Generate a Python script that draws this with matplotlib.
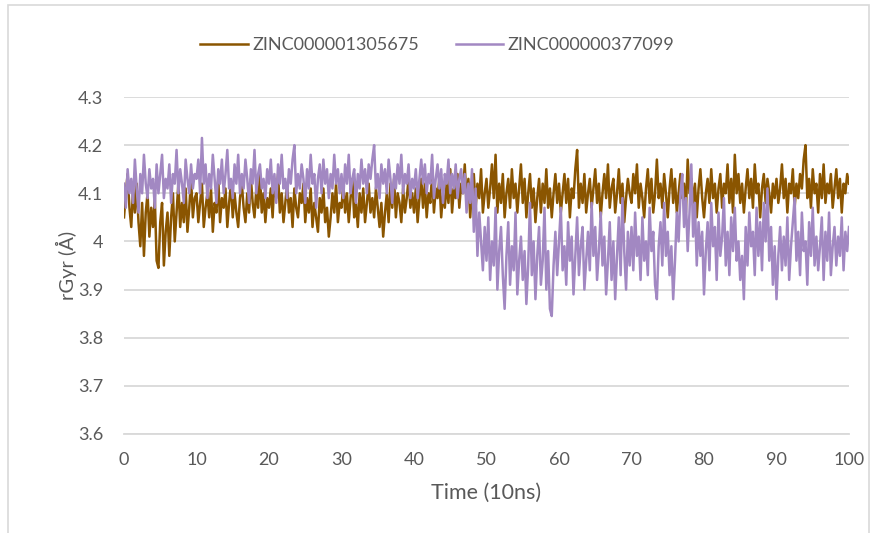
import numpy as np
import matplotlib
matplotlib.use("Agg")
import matplotlib.pyplot as plt
from matplotlib.patches import Rectangle

# ZINC000001305675 (brown), sampled every 0.25 time units (10 ns)
zinc_1305675 = [
    4.05, 4.10, 4.14, 4.07, 4.03, 4.11, 4.06, 4.12, 4.04, 3.99, 4.08, 3.97, 4.06, 4.10, 4.01, 4.07, 4.03, 4.09, 3.96, 3.945,
    4.04, 4.08, 3.95, 4.02, 4.06, 3.97, 4.05, 4.10, 4.00, 4.06, 4.12, 4.03, 4.08, 4.04, 4.11, 4.02, 4.07, 4.13, 4.05, 4.09,
    4.10, 4.04, 4.08, 4.12, 4.03, 4.07, 4.10, 4.05, 4.11, 4.02, 4.08, 4.06, 4.13, 4.04, 4.09, 4.07, 4.11, 4.03, 4.08, 4.12,
    4.05, 4.10, 4.06, 4.03, 4.09, 4.12, 4.07, 4.04, 4.10, 4.06, 4.13, 4.08, 4.05, 4.11, 4.07, 4.14, 4.06, 4.10, 4.04, 4.09,
    4.07, 4.11, 4.05, 4.13, 4.09, 4.14, 4.06, 4.10, 4.04, 4.08, 4.12, 4.06, 4.09, 4.03, 4.11, 4.07, 4.05, 4.10, 4.08, 4.12,
    4.04, 4.09, 4.06, 4.11, 4.03, 4.08, 4.05, 4.02, 4.09, 4.06, 4.11, 4.04, 4.07, 4.01, 4.05, 4.10, 4.06, 4.12, 4.04, 4.08,
    4.07, 4.12, 4.06, 4.10, 4.04, 4.09, 4.13, 4.05, 4.08, 4.03, 4.10, 4.06, 4.11, 4.04, 4.08, 4.12, 4.06, 4.09, 4.05, 4.11,
    4.07, 4.03, 4.08, 4.01, 4.06, 4.10, 4.04, 4.12, 4.07, 4.13, 4.05, 4.10, 4.08, 4.04, 4.11, 4.06, 4.09, 4.13, 4.07, 4.10,
    4.06, 4.11, 4.04, 4.09, 4.13, 4.07, 4.12, 4.05, 4.10, 4.08, 4.14, 4.06, 4.11, 4.09, 4.13, 4.05, 4.10, 4.07, 4.12, 4.08,
    4.15, 4.06, 4.11, 4.09, 4.14, 4.07, 4.12, 4.10, 4.16, 4.08, 4.13, 4.05, 4.11, 4.14, 4.07, 4.12, 4.09, 4.15, 4.06, 4.10,
    4.13, 4.07, 4.11, 4.16, 4.09, 4.18, 4.06, 4.12, 4.08, 4.14, 4.05, 4.10, 4.13, 4.07, 4.15, 4.09, 4.12, 4.06, 4.11, 4.16,
    4.08, 4.13, 4.05, 4.10, 4.14, 4.07, 4.11, 4.04, 4.09, 4.13, 4.06, 4.12, 4.08, 4.15, 4.07, 4.11, 4.05, 4.10, 4.14, 4.08,
    4.12, 4.06, 4.10, 4.14, 4.08, 4.13, 4.05, 4.11, 4.09, 4.15, 4.19, 4.07, 4.12, 4.08, 4.14, 4.06, 4.10, 4.13, 4.07, 4.11,
    4.15, 4.08, 4.12, 4.05, 4.10, 4.14, 4.09, 4.16, 4.07, 4.11, 4.13, 4.06, 4.10, 4.15, 4.08, 4.12, 4.04, 4.09, 4.13, 4.10,
    4.08, 4.14, 4.10, 4.16, 4.07, 4.12, 4.09, 4.05, 4.11, 4.15, 4.08, 4.13, 4.06, 4.10, 4.17, 4.09, 4.12, 4.07, 4.14, 4.10,
    4.05, 4.11, 4.15, 4.08, 4.13, 4.06, 4.10, 4.14, 4.09, 4.12, 4.06, 4.17, 4.10, 4.13, 4.08, 4.12, 4.05, 4.11, 4.15, 4.09,
    4.05, 4.10, 4.13, 4.08, 4.15, 4.09, 4.12, 4.06, 4.11, 4.14, 4.07, 4.12, 4.10, 4.16, 4.08, 4.13, 4.06, 4.18, 4.10, 4.14,
    4.08, 4.12, 4.06, 4.11, 4.15, 4.09, 4.13, 4.07, 4.16, 4.10, 4.12, 4.05, 4.11, 4.14, 4.08, 4.13, 4.10, 4.06, 4.12, 4.09,
    4.13, 4.08, 4.11, 4.16, 4.09, 4.13, 4.06, 4.12, 4.10, 4.15, 4.07, 4.12, 4.09, 4.14, 4.11, 4.17, 4.20, 4.09, 4.13, 4.07,
    4.15, 4.10, 4.12, 4.06, 4.14, 4.09, 4.16, 4.08, 4.12, 4.10, 4.14, 4.07, 4.11, 4.15, 4.09, 4.13, 4.06, 4.12, 4.10, 4.14,
    4.12,
]

# ZINC000000377099 (purple), sampled every 0.25 time units (10 ns)
zinc_377099 = [
    4.12, 4.07, 4.15, 4.10, 4.13, 4.08, 4.17, 4.11, 4.06, 4.14, 4.10, 4.18, 4.12, 4.09, 4.15, 4.11, 4.13, 4.07, 4.16, 4.10,
    4.14, 4.18, 4.09, 4.13, 4.11, 4.16, 4.08, 4.14, 4.12, 4.19, 4.10, 4.15, 4.12, 4.08, 4.17, 4.13, 4.10, 4.16, 4.11, 4.14,
    4.13, 4.17, 4.10, 4.215, 4.12, 4.16, 4.09, 4.14, 4.11, 4.18, 4.13, 4.08, 4.15, 4.12, 4.17, 4.10, 4.14, 4.19, 4.11, 4.13,
    4.09, 4.16, 4.12, 4.18, 4.10, 4.14, 4.11, 4.17, 4.13, 4.08, 4.15, 4.12, 4.19, 4.10, 4.14, 4.16, 4.11, 4.13, 4.09, 4.15,
    4.12, 4.17, 4.10, 4.14, 4.08, 4.16, 4.12, 4.18, 4.11, 4.13, 4.09, 4.15, 4.12, 4.17, 4.20, 4.10, 4.14, 4.11, 4.16, 4.13,
    4.08, 4.15, 4.11, 4.18, 4.12, 4.14, 4.07, 4.13, 4.16, 4.10, 4.17, 4.12, 4.15, 4.09, 4.14, 4.11, 4.18, 4.12, 4.15, 4.10,
    4.14, 4.09, 4.16, 4.12, 4.18, 4.10, 4.13, 4.15, 4.08, 4.14, 4.11, 4.17, 4.12, 4.15, 4.10, 4.16, 4.13, 4.17, 4.20, 4.11,
    4.14, 4.09, 4.16, 4.12, 4.15, 4.10, 4.17, 4.13, 4.08, 4.14, 4.11, 4.16, 4.12, 4.18, 4.10, 4.14, 4.12, 4.16, 4.09, 4.13,
    4.11, 4.15, 4.09, 4.13, 4.17, 4.12, 4.16, 4.10, 4.14, 4.12, 4.18, 4.09, 4.13, 4.16, 4.11, 4.15, 4.08, 4.14, 4.12, 4.17,
    4.10, 4.14, 4.11, 4.16, 4.09, 4.13, 4.15, 4.10, 4.14, 4.06, 4.12, 4.08, 4.15, 4.02, 4.11, 3.97, 4.06, 4.00, 3.94, 4.03,
    3.96, 4.05, 3.92, 4.00, 3.95, 4.07, 3.90, 3.98, 4.03, 3.93, 3.86, 3.97, 4.04, 3.91, 3.99, 3.94, 4.06, 3.89, 3.96, 4.01,
    3.92, 3.98, 3.87, 3.95, 4.08, 3.93, 4.00, 3.88, 3.97, 4.03, 3.91, 3.96, 4.07, 3.90, 3.98, 3.86, 3.845, 3.95, 4.02, 3.93,
    4.00, 4.07, 3.94, 3.99, 3.91, 4.04, 3.96, 4.01, 3.89, 3.97, 4.05, 3.93, 3.99, 4.03, 3.90, 3.96, 4.02, 3.94, 4.08, 3.97,
    4.03, 3.92, 3.98, 4.06, 3.95, 4.01, 3.89, 3.96, 4.04, 3.92, 4.00, 3.88, 3.97, 4.05, 3.93, 4.09, 3.98, 3.90, 4.02, 3.95,
    4.03, 3.94, 4.06, 3.97, 4.01, 3.92, 4.05, 3.96, 4.00, 3.93, 4.07, 3.98, 4.02, 3.91, 3.88, 3.99, 4.04, 3.95, 4.08, 3.97,
    4.02, 3.93, 3.99, 3.88, 3.96, 4.06, 4.00, 4.10, 4.14, 4.03, 4.09, 3.98, 4.06, 4.16, 4.01, 4.08, 3.95, 4.04, 3.97, 4.02,
    3.89, 3.98, 4.04, 3.94, 4.08, 3.99, 4.03, 3.92, 4.06, 3.97, 4.01, 4.09, 3.95, 4.02, 3.93, 4.05, 3.98, 4.07, 3.96, 4.00,
    3.92, 3.97, 3.88, 4.03, 3.95, 4.06, 3.99, 4.02, 3.93, 4.07, 3.97, 4.04, 3.94, 4.08, 4.00, 4.11, 3.96, 4.03, 3.91, 3.99,
    3.88, 3.97, 4.03, 3.94, 4.01, 3.95, 4.05, 3.92, 3.99, 4.04, 4.09, 3.96, 4.02, 3.93, 4.06, 3.98, 4.00, 3.91, 4.04, 3.97,
    4.07, 3.95, 4.01, 3.94, 3.99, 4.05, 3.92, 4.02, 3.96, 4.06, 3.93, 3.99, 4.03, 3.95, 4.01, 3.97, 4.05, 3.94, 4.02, 3.98,
    4.03,
]

time = np.linspace(0, 100, len(zinc_1305675))
time2 = np.linspace(0, 100, len(zinc_377099))

series_names = ["ZINC000001305675", "ZINC000000377099"]
x_ticks = list(range(0, 101, 10))
y_ticks = [3.6, 3.7, 3.8, 3.9, 4.0, 4.1, 4.2, 4.3]
y_tick_labels = ["3.6", "3.7", "3.8", "3.9", "4", "4.1", "4.2", "4.3"]

plt.rcParams['font.family'] = ['Lato', 'DejaVu Sans']
text_color = '#595959'
grid_color = '#d9d9d9'

fig = plt.figure(figsize=(8.75, 5.33), dpi=100)
ax = fig.add_axes([124/875, 1-434/533, (849-124)/875, (434-97)/533])

ax.plot(time, zinc_1305675, color='#8a5500', lw=1.8, label=series_names[0], zorder=3)
ax.plot(time2, zinc_377099, color='#a288c2', lw=1.8, label=series_names[1], zorder=4)

ax.set_xlim(0, 100)
ax.set_ylim(3.6, 4.3)
ax.set_xticks(x_ticks)
ax.set_yticks(y_ticks)
ax.set_yticklabels(y_tick_labels)
ax.tick_params(axis='both', length=0, labelsize=13, colors=text_color)
ax.tick_params(axis='x', pad=13)
ax.tick_params(axis='y', pad=15)
ax.grid(axis='y', color=grid_color, lw=1.3)
ax.set_axisbelow(True)
for s in ['top', 'right', 'left']:
    ax.spines[s].set_visible(False)
ax.spines['bottom'].set_color(grid_color)
ax.spines['bottom'].set_linewidth(1.3)

ax.set_xlabel('Time (10ns)', fontsize=15.5, color=text_color, labelpad=11)
ax.set_ylabel('rGyr (Å)', fontsize=14.5, color=text_color, va='center', ha='center')
ax.yaxis.set_label_coords((66 - 124) / 725, 0.5)

leg = fig.legend(loc='center', bbox_to_anchor=(0.5, 1-45/533), ncol=2, frameon=False,
                 fontsize=13, handlelength=2.65, handletextpad=0.25, columnspacing=2.0)
for t in leg.get_texts():
    t.set_color(text_color)

fig.patches.append(Rectangle((8/875, -0.05), (869-8)/875, 1.05-5/533, transform=fig.transFigure,
                             fill=False, edgecolor='#d9d9d9', lw=1.2))

fig.savefig('out.png', dpi=100)
